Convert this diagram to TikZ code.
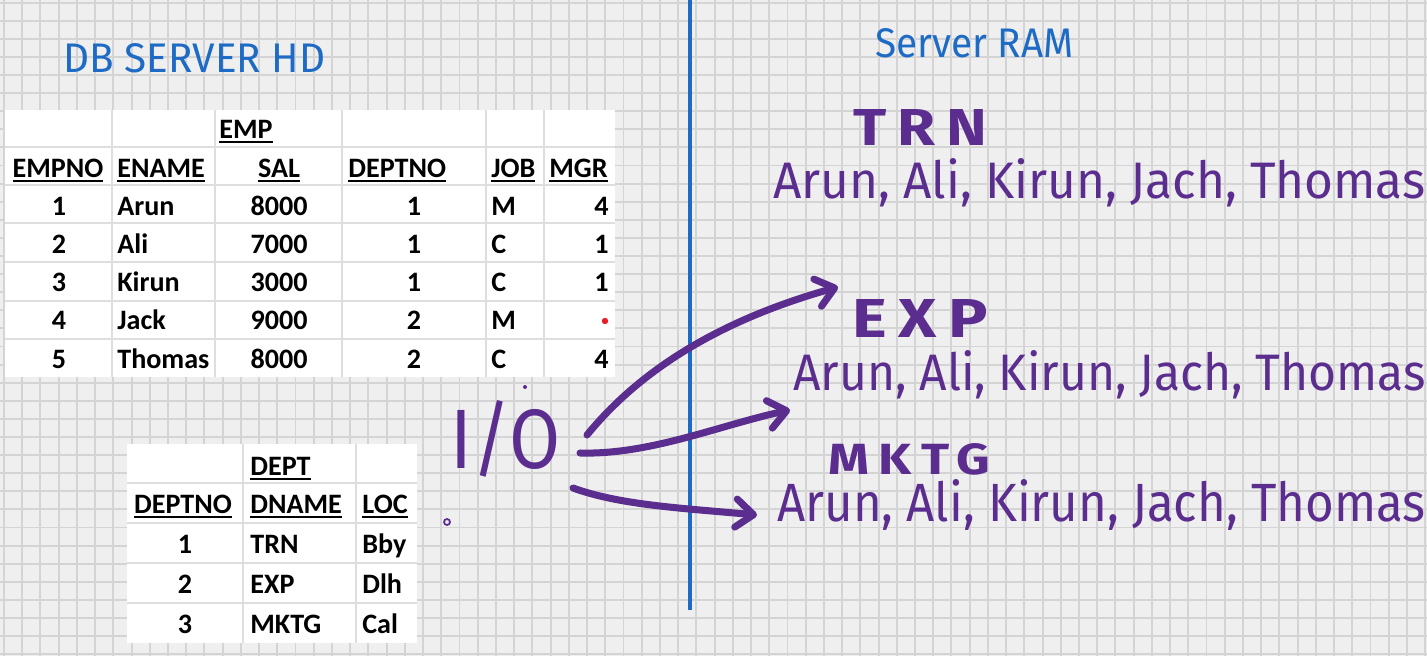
\documentclass[tikz,border=0pt]{standalone}
\usepackage{fontspec}
\usepackage{graphicx}
\setmainfont{Carlito}
\newfontfamily\handfont{Fira Sans}
\newfontfamily\handwide{Fira Sans}[LetterSpace=18]
\usetikzlibrary{arrows.meta}
\definecolor{GridBack}{RGB}{239,239,239}
\definecolor{GridLine}{RGB}{212,212,212}
\definecolor{CellLine}{RGB}{222,222,222}
\definecolor{InkBlue}{RGB}{30,107,198}
\definecolor{InkPurple}{RGB}{91,45,142}
\definecolor{DotRed}{RGB}{230,30,40}
\newlength\pxu
\setlength\pxu{0.02cm}
\newcommand\inkfit[3]{\resizebox{#1\pxu}{#2\pxu}{#3}}
\newcommand\hdrline[1]{\setbox0\hbox{#1}\rlap{\rule[-2.6pt]{\wd0}{1.1pt}}\box0}
\tikzset{
  cell/.style={font=\fontsize{16}{19}\selectfont\bfseries, inner sep=0pt, anchor=base},
  cellL/.style={cell, anchor=base west},
  cellR/.style={cell, anchor=base east},
  sepline/.style={draw=CellLine, line width=0.8pt},
  ink/.style={text=InkPurple, inner sep=0pt, anchor=base west, font=\handfont},
  inkhead/.style={ink, font=\handwide\bfseries},
  bluetitle/.style={text=InkBlue, inner sep=0pt, anchor=base west, font=\handfont},
  ioarrow/.style={draw=InkPurple, line width=4pt, line cap=round,
    -{Straight Barb[length=10pt,width=16pt,round]}}
}
\begin{document}
\begin{tikzpicture}[x=0.02cm,y=-0.02cm]
  \useasboundingbox (0,0) rectangle (1427,656);
  % squared paper
  \fill[GridBack] (0,0) rectangle (1427,656);
  \foreach \i in {0,...,78} \draw[GridLine,line width=1.1pt] ({4+18.22*\i},0) -- ++(0,656);
  \foreach \j in {0,...,36} \draw[GridLine,line width=1.1pt] (0,{2.6+18.1*\j}) -- ++(1427,0);

  % EMP table
  \fill[white] (5,110) rectangle (615,377);
  \foreach \cx in {112,215,342,486,544} \draw[sepline] (\cx,110) -- (\cx,377);
  \foreach \cy in {147,185,223,262,301,339} \draw[sepline] (5,\cy) -- (615,\cy);
  \node[cellL] (emp-title) at (219,138) {\hdrline{EMP}};
  \node[cell]  (emp-hno)   at (58,177)  {\hdrline{EMPNO}};
  \node[cellL] (emp-hname) at (117,177) {\hdrline{ENAME}};
  \node[cell]  (emp-hsal)  at (279,177) {\hdrline{SAL}};
  \node[cellL] (emp-hdno)  at (348,177) {\hdrline{DEPTNO}};
  \node[cellL] (emp-hjob)  at (491,177) {\hdrline{JOB}};
  \node[cellL] (emp-hmgr)  at (549,177) {\hdrline{MGR}};
  \foreach \no/\name/\sal/\dno/\job/\mgr [count=\r] in
      {1/Arun/8000/1/M/4, 2/Ali/7000/1/C/1, 3/Kirun/3000/1/C/1,
       4/Jack/9000/2/M/{}, 5/Thomas/8000/2/C/4} {
    \node[cell]  (emp-no-\r)   at (59,{215+38.3*(\r-1)})  {\no};
    \node[cellL] (emp-name-\r) at (117,{215+38.3*(\r-1)}) {\name};
    \node[cell]  (emp-sal-\r)  at (279,{215+38.3*(\r-1)}) {\sal};
    \node[cell]  (emp-dno-\r)  at (414,{215+38.3*(\r-1)}) {\dno};
    \node[cellL] (emp-job-\r)  at (491,{215+38.3*(\r-1)}) {\job};
    \node[cellR] (emp-mgr-\r)  at (609,{215+38.3*(\r-1)}) {\mgr};
  }
  \fill[DotRed] (605,321) circle (3.2);

  % DEPT table
  \fill[white] (127,444) rectangle (417,643);
  \foreach \cx in {243,356} \draw[sepline] (\cx,444) -- (\cx,643);
  \foreach \cy in {483,523,563,603} \draw[sepline] (127,\cy) -- (417,\cy);
  \node[cellL] (dept-title) at (250,475) {\hdrline{DEPT}};
  \node[cell]  (dept-hno)   at (183,513) {\hdrline{DEPTNO}};
  \node[cellL] (dept-hname) at (250,513) {\hdrline{DNAME}};
  \node[cellL] (dept-hloc)  at (362,513) {\hdrline{LOC}};
  \foreach \no/\dname/\loc [count=\r] in {1/TRN/Bby, 2/EXP/Dlh, 3/MKTG/Cal} {
    \node[cell]  (dept-no-\r)   at (185,{553+40*(\r-1)}) {\no};
    \node[cellL] (dept-name-\r) at (250,{553+40*(\r-1)}) {\dname};
    \node[cellL] (dept-loc-\r)  at (362,{553+40*(\r-1)}) {\loc};
  }

  % titles and divider
  \node[bluetitle] (hd-title)  at (63,72)  {\inkfit{262}{29}{DB SERVER HD}};
  \node[bluetitle] (ram-title) at (875,57) {\inkfit{198}{29}{Server RAM}};
  \draw[InkBlue,line width=2.3pt] (690,0) -- (690,610);

  % RAM contents
  \node[ink] (io) at (450,468) {\inkfit{110}{68}{I/O}};
  \node[inkhead] (ram-trn)  at (853,145) {\inkfit{134}{36}{TRN}};
  \node[inkhead] (ram-exp)  at (852,337) {\inkfit{136}{38}{EXP}};
  \node[inkhead] (ram-mktg) at (828,474) {\inkfit{162}{31}{MKTG}};
  \node[ink] (trn-list)  at (773,198) {\inkfit{652}{40}{Arun, Ali, Kirun, Jach, Thomas}};
  \node[ink] (exp-list)  at (793,390) {\inkfit{632}{40}{Arun, Ali, Kirun, Jach, Thomas}};
  \node[ink] (mktg-list) at (777,521) {\inkfit{648}{42}{Arun, Ali, Kirun, Jach, Thomas}};

  % I/O arrows
  \coordinate (io-up)  at (587,435);
  \coordinate (io-mid) at (580,453);
  \coordinate (io-low) at (573,488);
  \coordinate (to-trn)  at (838,287);
  \coordinate (to-exp)  at (790,410);
  \coordinate (to-mktg) at (757,515);
  \draw[ioarrow] (io-up) .. controls (640,370) and (720,320) .. (to-trn);
  \draw[ioarrow] (io-mid) .. controls (650,455) and (720,425) .. (to-exp);
  \draw[ioarrow] (io-low) .. controls (620,505) and (680,508) .. (to-mktg);
  \draw[InkPurple,line width=1pt] (447,522) circle (3);
  \fill[InkPurple] (525,387) circle (2);
\end{tikzpicture}
\end{document}
